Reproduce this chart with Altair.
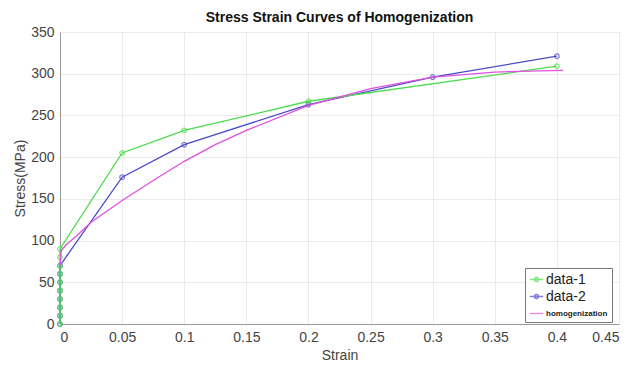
import altair as alt
import pandas as pd

series_names = ["data-1", "data-2", "homogenization"]
series_colors = ["#4ddc4d", "#4b4bc8", "#e050e0"]

d1_strain = [0, 0, 0, 0, 0, 0, 0, 0, 0, 0, 0.05, 0.1, 0.2, 0.4]
d1_stress = [0, 10, 20, 30, 40, 50, 60, 70, 80, 90, 205, 232, 267, 309]

d2_strain = [0, 0, 0, 0, 0, 0, 0, 0, 0.05, 0.1, 0.2, 0.3, 0.4]
d2_stress = [0, 10, 20, 30, 40, 50, 60, 70, 176, 215, 263, 296, 321]

h_strain = [0, 0.001, 0.005, 0.015, 0.025, 0.05, 0.075, 0.1, 0.125, 0.15, 0.2, 0.25, 0.3, 0.35, 0.405]
h_stress = [70, 88, 95, 108, 122, 148, 172, 195, 215, 232, 262, 282, 296, 302, 304]

x_ticks = [0, 0.05, 0.1, 0.15, 0.2, 0.25, 0.3, 0.35, 0.4, 0.45]
y_ticks = [0, 50, 100, 150, 200, 250, 300, 350]

def frame(xs, ys, name):
    return pd.DataFrame({"strain": xs, "stress": ys, "series": name, "idx": range(len(xs))})

df1 = frame(d1_strain, d1_stress, "data-1")
df2 = frame(d2_strain, d2_stress, "data-2")
dfh = frame(h_strain, h_stress, "homogenization")

font = "Liberation Sans"
x_enc = alt.X("strain:Q", title="Strain",
              scale=alt.Scale(domain=[0, 0.45], nice=False),
              axis=alt.Axis(values=x_ticks, format="~g"))
y_enc = alt.Y("stress:Q", title="Stress(MPa)",
              scale=alt.Scale(domain=[0, 350], nice=False),
              axis=alt.Axis(values=y_ticks))
color_enc = alt.Color("series:N",
                      scale=alt.Scale(domain=series_names, range=series_colors),
                      legend=alt.Legend(
                          title=None, orient="none", legendX=465, legendY=236,
                          strokeColor="#777", fillColor="white", padding=4,
                          symbolType={"expr": "datum.label == 'homogenization' ? 'M-1,0H1' : 'M-1,0H1M-0.3,0A0.3,0.3 0 1,0 0.3,0A0.3,0.3 0 1,0 -0.3,0'"},
                          symbolSize=180, symbolStrokeWidth=1.3,
                          labelFontSize={"expr": "datum.label == 'homogenization' ? 8 : 14"},
                          labelFontWeight={"expr": "datum.label == 'homogenization' ? 'bold' : 'normal'"},
                          labelFont=font, labelColor="#222", rowPadding=2, labelOffset=2))

def line_layer(df):
    return alt.Chart(df).mark_line(strokeWidth=1.3).encode(
        x=x_enc, y=y_enc, color=color_enc, order="idx:Q")

def point_layer(df):
    return alt.Chart(df).mark_point(shape="circle", size=22, strokeWidth=1.2, filled=False).encode(
        x=x_enc, y=y_enc, color=color_enc)

chart = alt.layer(
    line_layer(df2), point_layer(df2),
    line_layer(df1), point_layer(df1),
    line_layer(dfh),
).properties(
    width=559, height=292,
    title=alt.TitleParams("Stress Strain Curves of Homogenization", fontSize=14,
                          fontWeight="bold", font=font, color="#111", offset=0),
    autosize=alt.AutoSizeParams(type="none"),
    padding={"left": 52, "top": 24, "right": 4, "bottom": 40},
).configure_view(stroke="#e2e2e2").configure_axis(
    labelFont=font, labelFontSize=14, labelColor="#444",
    titleFont=font, titleFontSize=14, titleColor="#444", titleFontWeight="normal",
    gridColor="#ebebeb", domainColor="#999", ticks=False, labelPadding=6,
).configure_axisY(titlePadding=3).configure_axisX(titlePadding=4)

chart.save("out.html", embed_options={"renderer": "svg", "actions": False})
